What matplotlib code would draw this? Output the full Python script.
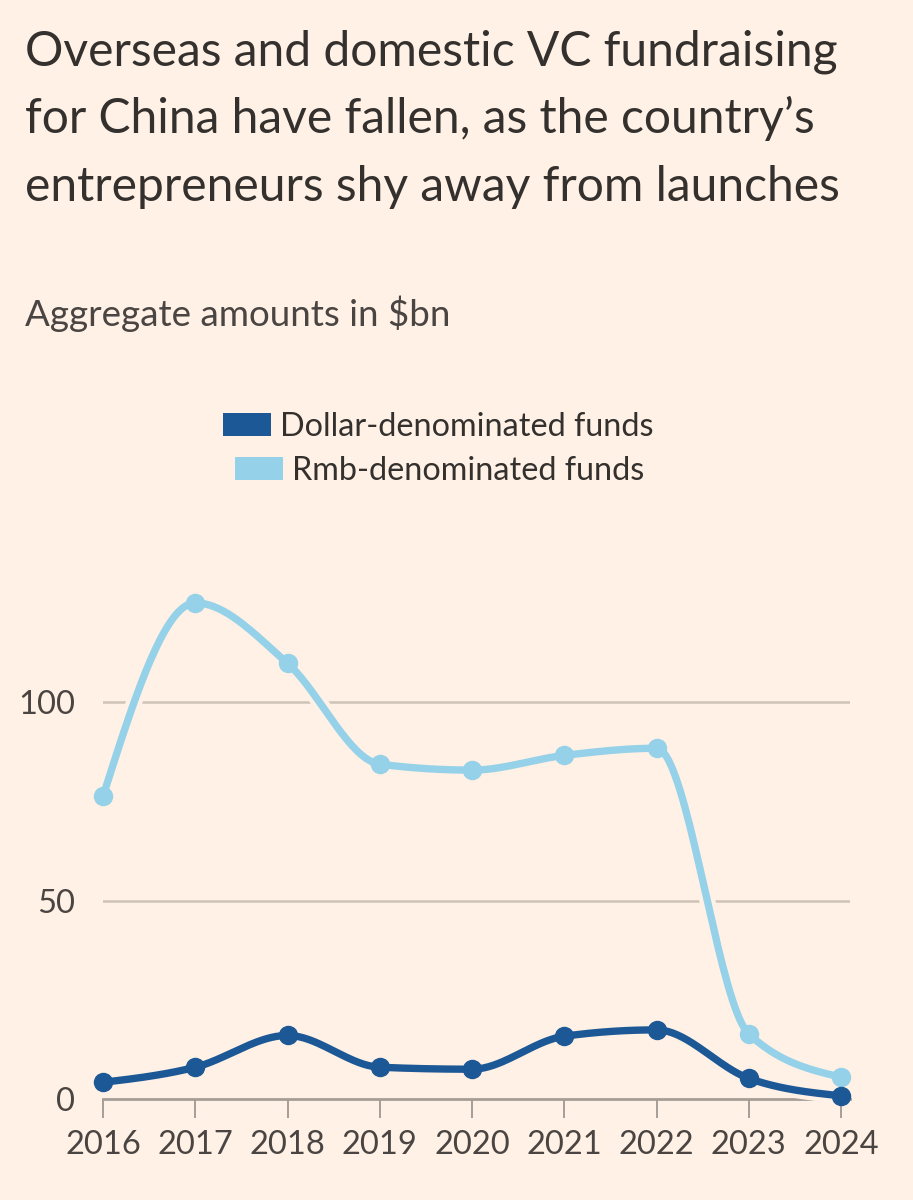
import numpy as np
import matplotlib
matplotlib.use("Agg")
import matplotlib.pyplot as plt
import matplotlib.patheffects as pe
from matplotlib.patches import Rectangle

# data ($bn)
years = [2016, 2017, 2018, 2019, 2020, 2021, 2022, 2023, 2024]
dollar_funds = [4.3, 8.1, 16.1, 8.1, 7.6, 15.9, 17.5, 5.3, 0.9]
rmb_funds = [76.3, 125.0, 109.8, 84.4, 82.9, 86.6, 88.4, 16.5, 5.6]
yticks = [0, 50, 100]

BG = "#fff1e5"
DARK = "#1d5896"
LIGHT = "#95d1e8"
TEXT = "#33302e"
GRID = "#cec3b8"
AXIS = "#a59d96"

plt.rcParams['font.family'] = ['Lato', 'DejaVu Sans']


def monotone(x, y, n=40):
    # monotone cubic (like d3.curveMonotoneX), only for drawing the smooth line
    x = np.asarray(x, float)
    y = np.asarray(y, float)
    h = np.diff(x)
    s = np.diff(y) / h
    m = np.zeros(len(x))
    for i in range(1, len(x) - 1):
        p = (s[i - 1] * h[i] + s[i] * h[i - 1]) / (h[i - 1] + h[i])
        m[i] = (np.sign(s[i - 1]) + np.sign(s[i])) * min(abs(s[i - 1]), abs(s[i]), 0.5 * abs(p))
    m[0] = (3 * s[0] - m[1]) / 2
    m[-1] = (3 * s[-1] - m[-2]) / 2
    xs, ys = [], []
    for i in range(len(x) - 1):
        t = np.linspace(0, 1, n)
        h00 = 2 * t**3 - 3 * t**2 + 1
        h10 = t**3 - 2 * t**2 + t
        h01 = -2 * t**3 + 3 * t**2
        h11 = t**3 - t**2
        xs.append(x[i] + t * h[i])
        ys.append(h00 * y[i] + h10 * h[i] * m[i] + h01 * y[i + 1] + h11 * h[i] * m[i + 1])
    return np.concatenate(xs), np.concatenate(ys)


W, H = 913, 1200
fig = plt.figure(figsize=(W / 100, H / 100), dpi=100, facecolor=BG)

ax_left, ax_right = 103, 850
ax_top, ax_bottom = 583, 1099.4
ax = fig.add_axes([ax_left / W, 1 - ax_bottom / H, (ax_right - ax_left) / W, (ax_bottom - ax_top) / H])
ax.set_facecolor(BG)

px_per_year = (841 - 103) / 8
ax.set_xlim(2016, 2016 + (ax_right - ax_left) / px_per_year)
ax.set_ylim(0, 130)

halo = [pe.Stroke(linewidth=11.5, foreground=BG), pe.Normal()]
for vals, col in [(rmb_funds, LIGHT), (dollar_funds, DARK)]:
    sx, sy = monotone(years, vals)
    ax.plot(sx, sy, color=col, lw=5.3, solid_capstyle='round', path_effects=halo,
            zorder=3, clip_on=False)
    ax.plot(years, vals, 'o', color=col, ms=13, zorder=4, clip_on=False)

for v in yticks[1:]:
    ax.axhline(v, color=GRID, lw=1.8, zorder=1)

for s in ['top', 'right', 'left']:
    ax.spines[s].set_visible(False)
ax.spines['bottom'].set_color(AXIS)
ax.spines['bottom'].set_linewidth(2)
ax.spines['bottom'].set_zorder(2)

ax.set_xticks(years)
ax.set_xticklabels([str(y) for y in years])
ax.set_yticks(yticks)
ax.tick_params(axis='x', length=14, width=1.4, color=AXIS, pad=8, labelsize=23.5,
               labelcolor="#4a4542")
ax.tick_params(axis='y', length=0, pad=20, labelsize=23.5, labelcolor="#4a4542")

# title and subtitle
title_lines = ["Overseas and domestic VC fundraising",
               "for China have fallen, as the country\u2019s",
               "entrepreneurs shy away from launches"]
for i, line in enumerate(title_lines):
    fig.text(25 / W, 1 - (65 + 68 * i) / H, line, fontsize=34.6, color=TEXT,
             ha='left', va='baseline')
fig.text(25 / W, 1 - 326 / H, "Aggregate amounts in $bn", fontsize=26.5,
         color="#4a4542", ha='left', va='baseline')

# legend, each row centred on its own
legend_rows = [("Dollar-denominated funds", DARK, 223, 413),
               ("Rmb-denominated funds", LIGHT, 235, 457)]
for label, col, x0, y0 in legend_rows:
    fig.patches.append(Rectangle((x0 / W, 1 - (y0 + 23) / H), 48 / W, 23 / H,
                                 transform=fig.transFigure, facecolor=col,
                                 edgecolor='none'))
    fig.text((x0 + 57) / W, 1 - (y0 + 23) / H, label, fontsize=23.3, color=TEXT,
             ha='left', va='baseline')

fig.savefig("out.png", dpi=100, facecolor=BG)
